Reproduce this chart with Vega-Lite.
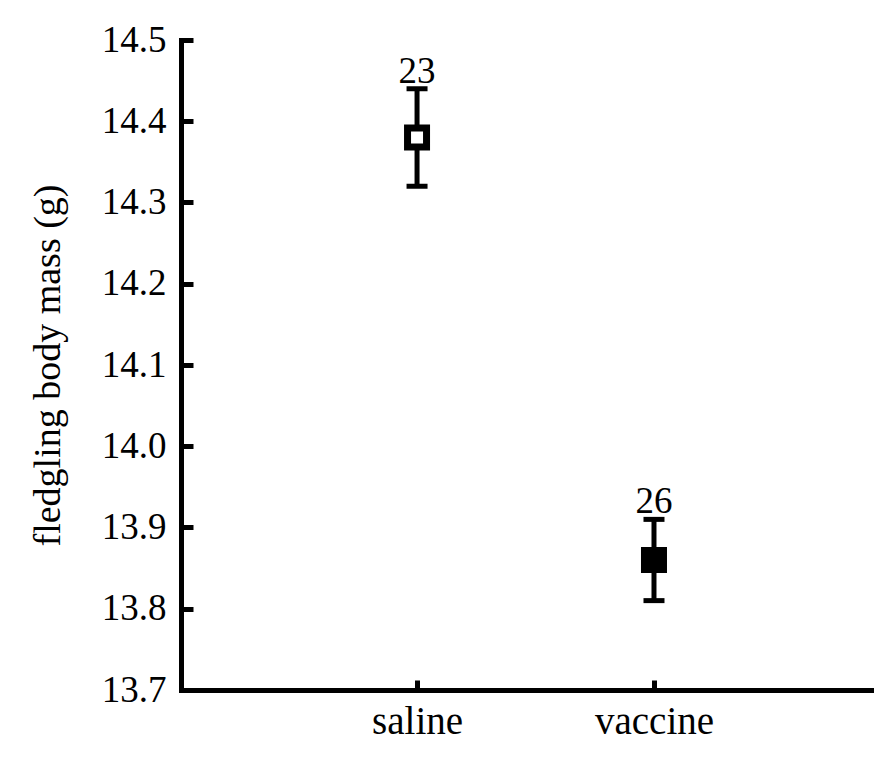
{
  "$schema": "https://vega.github.io/schema/vega-lite/v6.json",
  "width": 690,
  "height": 650,
  "autosize": {"type": "none"},
  "padding": {"left": 181, "top": 40, "right": 19, "bottom": 80},
  "background": "white",
  "config": {
    "view": {"stroke": null},
    "font": "Liberation Serif",
    "axis": {
      "domainColor": "black", "domainWidth": 5, "domainCap": "square",
      "tickColor": "black", "tickWidth": 5,
      "labelColor": "black", "labelFont": "Liberation Serif", "labelFontSize": 37,
      "titleColor": "black", "titleFont": "Liberation Serif", "titleFontSize": 38, "titleFontWeight": "normal",
      "grid": false
    },
    "axisX": {"tickSize": -10, "labelPadding": 22, "labelAngle": 0, "labelFont": "Liberation Serif"},
    "axisY": {"tickSize": -12, "labelPadding": 27, "titlePadding": 34, "labelFont": "Liberation Serif"}
  },
  "data": {
    "values": [
      {"group": "saline", "mean": 14.38, "lo": 14.32, "hi": 14.44, "n": 23},
      {"group": "vaccine", "mean": 13.86, "lo": 13.81, "hi": 13.91, "n": 26}
    ]
  },
  "encoding": {
    "x": {
      "field": "group", "type": "nominal", "title": null,
      "scale": {"type": "point", "padding": 0.956, "align": 0.521},
      "axis": {"labelFont": "Liberation Serif", "labelFontSize": 39, "labelColor": "black"}
    }
  },
  "layer": [
    {
      "mark": {"type": "rule", "color": "black", "strokeWidth": 5},
      "encoding": {
        "y": {
          "field": "lo", "type": "quantitative", "title": "fledgling body mass (g)",
          "scale": {"domain": [13.7, 14.5], "nice": false, "zero": false},
          "axis": {"values": [13.7, 13.8, 13.9, 14.0, 14.1, 14.2, 14.3, 14.4, 14.5], "format": ".1f", "labelFont": "Liberation Serif", "labelFontSize": 37, "labelColor": "black", "titleFont": "Liberation Serif"}
        },
        "y2": {"field": "hi"}
      }
    },
    {
      "mark": {"type": "tick", "color": "black", "size": 21, "thickness": 5, "orient": "horizontal", "opacity": 1},
      "encoding": {"y": {"field": "lo", "type": "quantitative", "title": "fledgling body mass (g)"}}
    },
    {
      "mark": {"type": "tick", "color": "black", "size": 21, "thickness": 5, "orient": "horizontal", "opacity": 1},
      "encoding": {"y": {"field": "hi", "type": "quantitative", "title": "fledgling body mass (g)"}}
    },
    {
      "mark": {"type": "point", "shape": "square", "size": 361, "strokeWidth": 7, "stroke": "black", "filled": true, "opacity": 1},
      "encoding": {
        "y": {"field": "mean", "type": "quantitative", "title": "fledgling body mass (g)"},
        "fill": {"field": "group", "type": "nominal", "scale": {"domain": ["saline", "vaccine"], "range": ["white", "black"]}, "legend": null}
      }
    },
    {
      "mark": {"type": "text", "baseline": "alphabetic", "dy": -6, "fontSize": 37, "font": "Liberation Serif", "color": "black"},
      "encoding": {
        "y": {"field": "hi", "type": "quantitative", "title": "fledgling body mass (g)"},
        "text": {"field": "n", "type": "quantitative"}
      }
    }
  ]
}
